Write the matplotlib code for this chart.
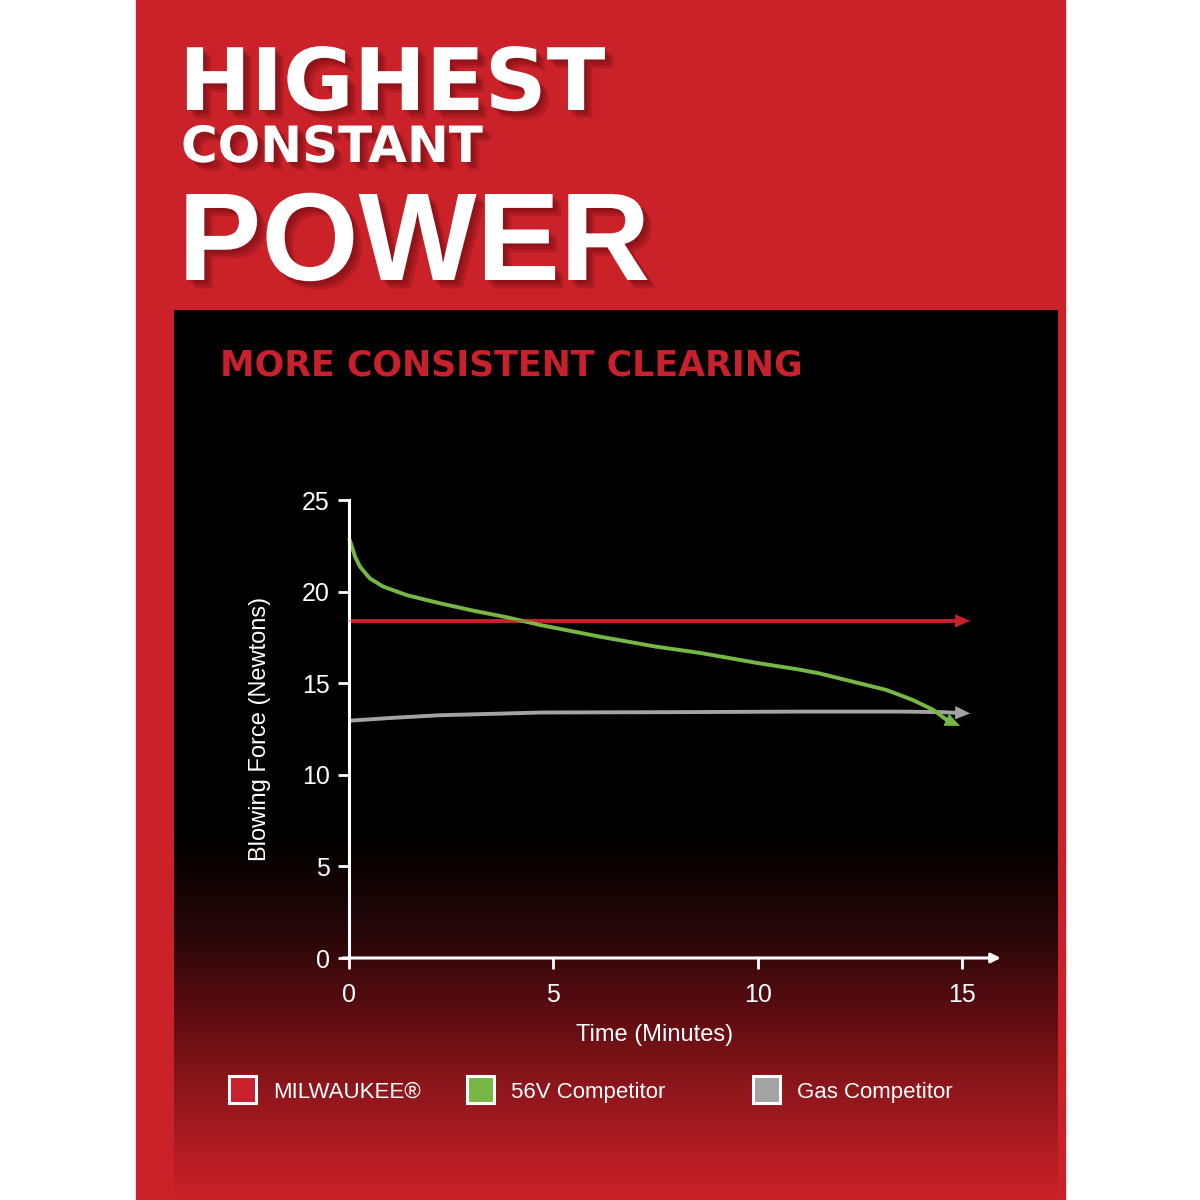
import numpy as np
import matplotlib
matplotlib.use("Agg")
import matplotlib.pyplot as plt
import matplotlib.patheffects as pe
from matplotlib.patches import Rectangle
from matplotlib.colors import LinearSegmentedColormap

# data
time_milwaukee = [0, 15.2]
force_milwaukee = [18.4, 18.4]

time_56v = [0, 0.05, 0.15, 0.27, 0.51, 0.84, 1.41, 2.23, 3.04, 3.86, 4.67, 6.14, 7.5,
            8.6, 10.0, 11.0, 11.5, 12.3, 13.15, 13.8, 14.3, 14.62, 14.95]
force_56v = [22.9, 22.6, 21.9, 21.36, 20.72, 20.27, 19.81, 19.36, 18.96, 18.6, 18.18, 17.54, 17.0,
             16.65, 16.1, 15.75, 15.54, 15.1, 14.63, 14.08, 13.54, 13.0, 12.66]

time_gas = [0, 1.0, 2.2, 4.7, 8.0, 11.0, 13.5, 14.5, 15.2]
force_gas = [12.95, 13.1, 13.25, 13.4, 13.42, 13.45, 13.45, 13.42, 13.35]

x_ticks = [0, 5, 10, 15]
y_ticks = [0, 5, 10, 15, 20, 25]

legend_labels = ["MILWAUKEE®", "56V Competitor", "Gas Competitor"]
red = "#c8202c"
green = "#76b843"
gray = "#a3a3a3"
series_colors = [red, green, gray]

sans = "Liberation Sans"

fig = plt.figure(figsize=(12, 12), dpi=100)

# background decoration in pixel coordinates
bg = fig.add_axes([0, 0, 1, 1])
bg.set_xlim(0, 1200)
bg.set_ylim(1200, 0)
bg.axis("off")
bg.add_patch(Rectangle((136, 0), 929, 1200, color="#cb2229", zorder=0))

grad = LinearSegmentedColormap.from_list(
    "box", [(0, "#000000"), (0.59, "#000000"), (0.7, "#260709"),
            (0.78, "#560b10"), (0.87, "#8a161b"), (1.0, "#cb2129")])
bg.imshow(np.linspace(0, 1, 400).reshape(-1, 1), cmap=grad, aspect="auto",
          extent=(174, 1058, 1200, 310), zorder=1)

shadow = [pe.SimplePatchShadow(offset=(o, -o), shadow_rgbFace="#5a080c", alpha=0.22)
          for o in (2, 4, 6)] + [pe.Normal()]
bg.text(179, 110, "HIGHEST", color="white", fontsize=62, fontweight="bold",
        family="DejaVu Sans", va="baseline", path_effects=shadow, zorder=3)
bg.text(181, 162, "CONSTANT", color="white", fontsize=36, fontweight="bold",
        family="DejaVu Sans", va="baseline", path_effects=shadow, zorder=3)
bg.text(178, 280, "POWER", color="white", fontsize=90, fontweight="bold",
        family=sans, va="baseline", path_effects=shadow, zorder=3)
bg.text(220, 376, "MORE CONSISTENT CLEARING", color=red, fontsize=25,
        fontweight="bold", family="DejaVu Sans", va="baseline", zorder=3)

# legend drawn by hand to match the uneven spacing
legend_x = [229, 467, 753]
for lx, lab, c in zip(legend_x, legend_labels, series_colors):
    bg.add_patch(Rectangle((lx, 1076), 27, 27, facecolor=c, edgecolor="white",
                           lw=2.2, zorder=3))
    bg.text(lx + 44, 1098, lab, color="white", fontsize=16, family=sans,
            va="baseline", zorder=3)

# chart axes
ax = fig.add_axes([349 / 1200, 242 / 1200, 653.9 / 1200, 458 / 1200])
ax.set_facecolor("none")
ax.set_xlim(0, 16)
ax.set_ylim(0, 25)
for s in ["top", "right", "bottom"]:
    ax.spines[s].set_visible(False)
ax.spines["left"].set_color("white")
ax.spines["left"].set_linewidth(2.2)
ax.set_xticks(x_ticks)
ax.set_yticks(y_ticks)
ax.tick_params(colors="white", width=2, length=8, labelsize=18)
ax.tick_params(axis="x", pad=10)
ax.tick_params(axis="y", pad=6)
for lbl in ax.get_xticklabels() + ax.get_yticklabels():
    lbl.set_family(sans)

ax.annotate("", xy=(15.95, 0), xytext=(-0.15, 0), annotation_clip=False,
            arrowprops=dict(arrowstyle="-|>", color="white", lw=2.2,
                            mutation_scale=14, shrinkA=0, shrinkB=0))

head = "-|>,head_length=0.5,head_width=0.22"
for t, f, c in [(time_gas, force_gas, gray), (time_milwaukee, force_milwaukee, red),
                (time_56v, force_56v, green)]:
    ax.plot(t[:-1] + [t[-1] - 0.15 * (t[-1] - t[-2]) / abs(t[-1] - t[-2])],
            f[:-1] + [f[-1] - 0.15 * (f[-1] - f[-2]) / abs(t[-1] - t[-2])],
            color=c, lw=2.8, solid_capstyle="butt", clip_on=False)
    ax.annotate("", xy=(t[-1], f[-1]), xytext=(t[-2], f[-2]), annotation_clip=False,
                arrowprops=dict(arrowstyle=head, color=c, lw=0.5,
                                mutation_scale=20, shrinkA=0, shrinkB=0))

ax.set_xlabel("Time (Minutes)", color="white", fontsize=17, family=sans)
ax.xaxis.set_label_coords(0.468, -0.168)
ax.xaxis.label.set_va("center")
ax.set_ylabel("Blowing Force (Newtons)", color="white", fontsize=17, family=sans)
ax.yaxis.set_label_coords(-0.136, 0.5)
ax.yaxis.label.set_va("center")

fig.savefig("out.png", dpi=100, facecolor="white")
